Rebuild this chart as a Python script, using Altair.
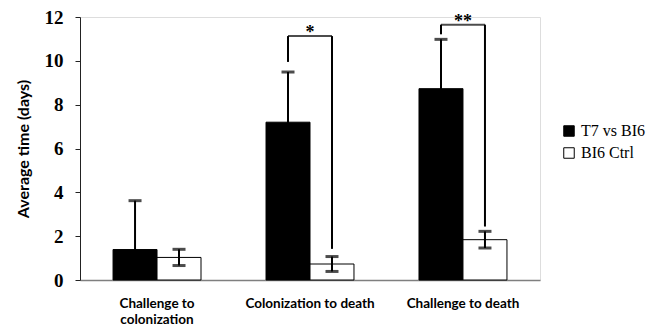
import altair as alt
import pandas as pd

categories = ["Challenge to colonization", "Colonization to death", "Challenge to death"]
series = ["T7 vs BI6", "BI6 Ctrl"]
t7_mean = [1.39, 7.20, 8.73]
t7_sd = [2.23, 2.29, 2.25]
ctrl_mean = [1.03, 0.73, 1.84]
ctrl_sd = [0.37, 0.34, 0.38]

bracket_cat = ["Colonization to death", "Challenge to death"]
bracket_top = [11.13, 11.65]
bracket_left_bottom = [9.95, 11.21]
bracket_right_bottom = [1.42, 2.44]
bracket_label = ["*", "**"]

rows = []
for i, c in enumerate(categories):
    rows.append(dict(cat=c, series=series[0], mean=t7_mean[i],
                     lo=max(t7_mean[i] - t7_sd[i], 0), hi=t7_mean[i] + t7_sd[i]))
    rows.append(dict(cat=c, series=series[1], mean=ctrl_mean[i],
                     lo=max(ctrl_mean[i] - ctrl_sd[i], 0), hi=ctrl_mean[i] + ctrl_sd[i]))
df = pd.DataFrame(rows)

brows = []
for i, c in enumerate(bracket_cat):
    brows.append(dict(cat=c, series=series[0], y=bracket_left_bottom[i], y2=bracket_top[i]))
    brows.append(dict(cat=c, series=series[1], y=bracket_right_bottom[i], y2=bracket_top[i]))
bdf = pd.DataFrame(brows)
tdf = pd.DataFrame(dict(cat=bracket_cat, top=bracket_top, label=bracket_label))

label_expr = ("datum.value == 'Challenge to colonization' ? "
              "['Challenge to', 'colonization'] : datum.value")

xenc = alt.X("cat:N", sort=categories,
             scale=alt.Scale(domain=categories, paddingInner=0.425, paddingOuter=0.216),
             axis=alt.Axis(title=None, labelAngle=0, ticks=False, labelExpr=label_expr,
                           domainColor="#7f7f7f", domainWidth=1.5,
                           labelFont="Lato", labelFontWeight="bold", labelFontSize=13.5,
                           labelColor="black", labelPadding=16, labelBaseline="top",
                           labelLineHeight=16))
xoff = alt.XOffset("series:N", sort=series,
                   scale=alt.Scale(domain=series, paddingInner=0, paddingOuter=0))
yscale = alt.Scale(domain=[0, 12])
yenc = alt.Y("mean:Q", scale=yscale,
             axis=alt.Axis(title="Average time (days)", values=[0, 2, 4, 6, 8, 10, 12],
                           grid=False, domainColor="#222222", tickColor="#222222",
                           tickSize=5, labelPadding=12, labelFont="Liberation Serif",
                           labelFontWeight="bold", labelFontSize=19, labelColor="black",
                           titleFont="Lato", titleFontWeight="bold", titleFontSize=16,
                           titleColor="black", titlePadding=13))

base = alt.Chart(df).encode(x=xenc, xOffset=xoff)

bars = base.mark_bar(stroke="black", strokeWidth=1).encode(
    y=yenc,
    fill=alt.Fill("series:N", sort=series,
                  scale=alt.Scale(domain=series, range=["black", "white"]),
                  legend=alt.Legend(title=None, orient="none", legendX=481, legendY=106,
                                    symbolType="square", symbolSize=110,
                                    symbolStrokeColor="black", symbolStrokeWidth=1,
                                    labelFont="Liberation Serif", labelFontSize=16,
                                    labelColor="black", labelOffset=4, rowPadding=6,
                                    labelLimit=0)))

err = base.mark_rule(color="black", strokeWidth=2).encode(y="lo:Q", y2="hi:Q")
cap_hi = base.mark_tick(color="black", size=13, thickness=3).encode(y="hi:Q")
cap_lo = base.mark_tick(color="black", size=13, thickness=3).encode(y="lo:Q").transform_filter(
    alt.datum.series == series[1])

br_v = alt.Chart(bdf).mark_rule(color="black", strokeWidth=2).encode(
    x=alt.X("cat:N", sort=categories), xOffset=alt.XOffset("series:N", sort=series),
    y="y:Q", y2="y2:Q")
br_h = alt.Chart(tdf).mark_tick(color="black", size=44, thickness=2).encode(
    x=alt.X("cat:N", sort=categories), y="top:Q")
stars = alt.Chart(tdf).mark_text(font="Liberation Serif", fontWeight="bold", fontSize=18,
                                 baseline="middle", dy=-3, color="black").encode(
    x=alt.X("cat:N", sort=categories), y="top:Q", text="label:N")

chart = alt.layer(bars, err, cap_hi, cap_lo, br_v, br_h, stars).properties(
    width=460, height=263,
    autosize=alt.AutoSizeParams(type="none"),
    padding={"left": 72, "top": 9, "right": 106, "bottom": 45},
).configure_view(stroke=None).configure(background="white")

chart.save("out.html", embed_options={"renderer": "svg", "actions": False})
